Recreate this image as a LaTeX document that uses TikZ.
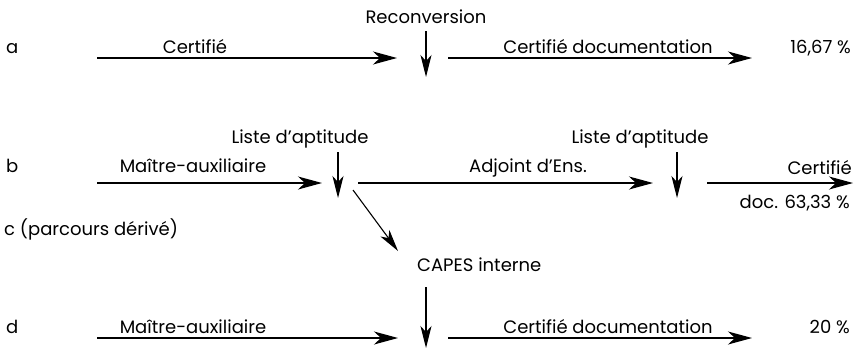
\documentclass[tikz,border=0pt]{standalone}
\usepackage{fontspec}
\setmainfont{Poppins}
\usetikzlibrary{arrows.meta}
\begin{document}
\begin{tikzpicture}[x=1pt,y=-1pt,font=\fontsize{18}{21}\selectfont]
            \tikzstyle{txt}=[inner sep=0pt,anchor=base]
            \tikzstyle{flow}=[line width=1.3pt,-{Stealth[length=24pt,width=13pt,inset=7pt]}]
            \tikzstyle{drop}=[line width=1.1pt,-{Stealth[length=22pt,width=11pt,inset=6pt]}]
            \useasboundingbox (0,0) rectangle (857,349);
            % row a
            \node(ra)[txt,anchor=base west] at (6,53) {a};
            \node(certA)[txt] at (195,53) {Certifié};
            \node(reconv)[txt] at (426,23) {Reconversion};
            \node(docA)[txt] at (608,53) {Certifié documentation};
            \node(pctA)[txt,anchor=base east] at (851,53) {16,67 \%};
            \coordinate(a0) at (97,58);  \coordinate(a1) at (397,58);
            \coordinate(a2) at (448,58); \coordinate(a3) at (752,58);
            \coordinate(va0) at (426,31); \coordinate(va1) at (426,77);
            \draw[flow] (a0) -- (a1);
            \draw[flow] (a2) -- (a3);
            \draw[drop] (va0) -- (va1);
            % row b
            \node(rb)[txt,anchor=base west] at (6,172) {b};
            \node(maB)[txt] at (193,172) {Maître-auxiliaire};
            \node(listeB)[txt] at (300,143) {Liste d’aptitude};
            \node(adj)[txt] at (528,172) {Adjoint d’Ens.};
            \node(listeC)[txt] at (640,143) {Liste d’aptitude};
            \node(certB)[txt,anchor=base east] at (852,174) {Certifié};
            \node(pctB)[txt,anchor=base east] at (850,208) {doc. 63,33 \%};
            \coordinate(b0) at (97,183);  \coordinate(b1) at (322,183);
            \coordinate(b2) at (358,183); \coordinate(b3) at (653,183);
            \coordinate(b4) at (707,183); \coordinate(b5) at (853,183);
            \coordinate(vb0) at (338,152); \coordinate(vb1) at (338,198);
            \coordinate(vc0) at (677,152); \coordinate(vc1) at (677,198);
            \draw[flow] (b0) -- (b1);
            \draw[flow] (b2) -- (b3);
            \draw[flow] (b4) -- (b5);
            \draw[drop] (vb0) -- (vb1);
            \draw[drop] (vc0) -- (vc1);
            % row c
            \node(rc)[txt,anchor=base west] at (4,235) {c (parcours dérivé)};
            \node(capes)[txt,anchor=base west] at (417,271) {CAPES interne};
            \coordinate(c0) at (353,190); \coordinate(c1) at (398,251);
            \draw[drop] (c0) -- (c1);
            % row d
            \node(rd)[txt,anchor=base west] at (6,333) {d};
            \node(maD)[txt] at (193,333) {Maître-auxiliaire};
            \node(docD)[txt] at (608,333) {Certifié documentation};
            \node(pctD)[txt,anchor=base east] at (850,333) {20 \%};
            \coordinate(d0) at (97,338);  \coordinate(d1) at (398,338);
            \coordinate(d2) at (448,338); \coordinate(d3) at (752,338);
            \coordinate(vd0) at (426,287); \coordinate(vd1) at (426,348);
            \draw[flow] (d0) -- (d1);
            \draw[flow] (d2) -- (d3);
            \draw[drop] (vd0) -- (vd1);
          \end{tikzpicture}
\end{document}
